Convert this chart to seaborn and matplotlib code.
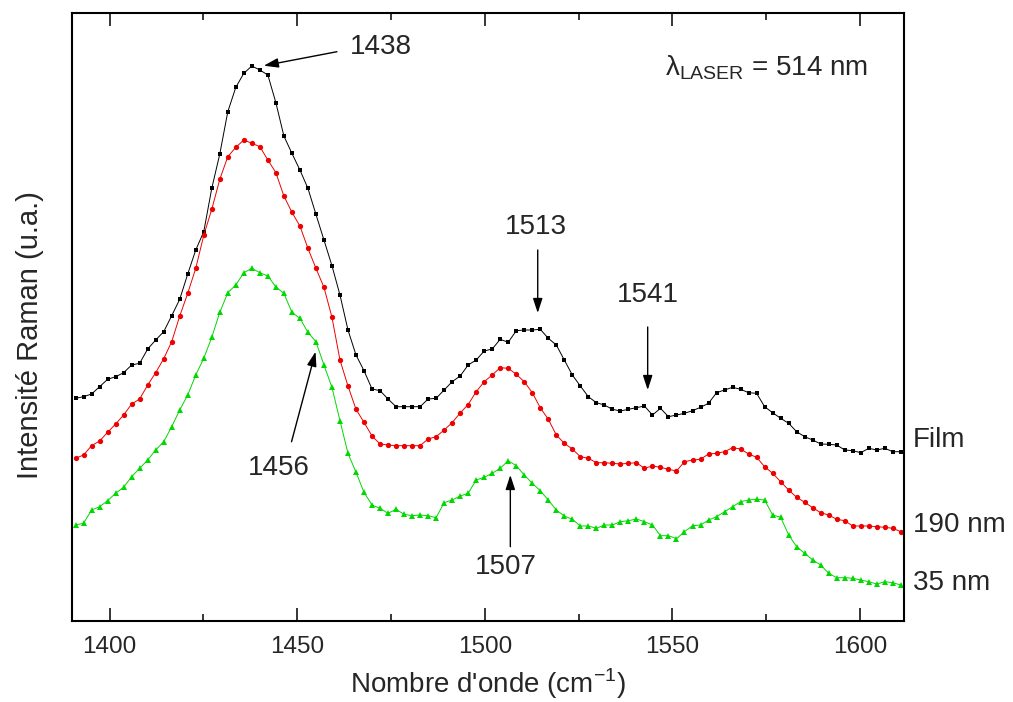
import numpy as np
import pandas as pd
import seaborn as sns
import matplotlib.pyplot as plt
from matplotlib.ticker import MultipleLocator

# wavenumber sampling of the spectra (cm-1)
WN_START = 1390.95
WN_STEP = 2.135
N_POINTS = 104

# Raman intensity (a.u.)
FILM = [
    222.7, 224.3, 227.0, 234.3, 241.7, 244.3, 248.3, 256.0, 257.7, 272.0,
    281.0, 289.3, 305.3, 321.7, 347.0, 371.0, 389.3, 432.7, 467.0, 509.3,
    533.7, 547.7, 555.0, 551.0, 546.0, 518.3, 485.0, 467.7, 451.0, 432.7,
    406.7, 381.0, 355.3, 326.0, 291.0, 266.0, 250.3, 232.0, 230.3, 222.0,
    214.3, 214.3, 214.3, 214.3, 222.0, 222.7, 231.0, 239.3, 245.0, 256.0,
    261.0, 270.0, 272.0, 281.7, 278.7, 290.3, 291.0, 291.0, 291.7, 282.7,
    276.0, 261.0, 246.0, 235.0, 224.3, 218.3, 216.0, 211.7, 210.0, 211.7,
    213.3, 215.0, 206.0, 212.7, 204.3, 206.0, 207.7, 210.3, 213.7, 217.7,
    228.3, 231.0, 233.7, 231.7, 228.3, 227.7, 214.3, 208.3, 202.7, 197.7,
    189.3, 184.3, 181.0, 177.0, 176.7, 176.0, 171.0, 170.3, 168.3, 172.7,
    171.0, 172.7, 169.3, 169.3,
]
NM190 = [
    162.7, 166.0, 175.3, 180.0, 188.7, 197.0, 206.0, 217.0, 222.0, 236.0,
    248.3, 262.3, 279.3, 305.0, 327.7, 352.7, 385.7, 411.7, 441.7, 464.3,
    473.7, 481.0, 477.7, 474.3, 461.0, 448.3, 425.0, 408.7, 395.0, 372.7,
    352.7, 333.7, 303.7, 261.0, 235.0, 211.7, 198.7, 185.0, 177.0, 176.0,
    175.3, 175.3, 175.3, 175.3, 182.0, 184.3, 191.0, 198.3, 208.0, 216.5,
    229.3, 239.3, 246.0, 253.3, 252.7, 246.7, 239.3, 228.3, 213.3, 201.7,
    186.0, 177.7, 172.0, 164.3, 162.7, 158.3, 158.3, 157.7, 157.0, 157.7,
    158.3, 152.7, 155.0, 153.7, 151.7, 150.0, 159.3, 161.0, 161.7, 167.0,
    167.7, 169.3, 173.3, 172.0, 167.0, 163.7, 154.3, 147.7, 139.3, 131.0,
    123.7, 118.7, 113.3, 108.3, 106.0, 101.7, 100.3, 95.0, 95.0, 95.0,
    94.3, 93.7, 92.7, 89.3,
]
NM35 = [
    96.0, 97.7, 111.0, 114.3, 120.3, 127.7, 133.7, 144.3, 152.7, 161.0,
    171.0, 179.3, 194.3, 211.0, 226.0, 246.0, 262.7, 283.7, 308.7, 328.3,
    336.0, 348.3, 352.7, 348.3, 345.0, 334.0, 327.7, 308.7, 302.7, 288.7,
    279.3, 256.0, 233.7, 200.3, 167.7, 148.7, 128.7, 116.0, 112.7, 107.7,
    111.7, 106.7, 105.3, 106.0, 105.3, 103.3, 118.3, 121.0, 125.0, 127.7,
    141.0, 143.7, 147.7, 152.7, 160.3, 155.3, 146.0, 137.7, 130.3, 121.0,
    111.0, 105.0, 101.7, 95.0, 95.0, 92.7, 96.0, 96.0, 99.3, 100.3,
    102.0, 99.3, 96.0, 85.3, 85.3, 82.3, 89.3, 95.3, 96.0, 101.0,
    104.3, 109.3, 114.3, 119.3, 121.0, 121.7, 121.0, 106.0, 103.7, 86.0,
    74.3, 67.7, 61.0, 56.0, 47.7, 43.3, 43.3, 42.7, 41.0, 39.3,
    37.0, 39.3, 38.3, 36.0,
]

SERIES = ["Film", "190 nm", "35 nm"]
COLORS = {"Film": "#000000", "190 nm": "#ee0000", "35 nm": "#00d800"}
MARKERS = {"Film": "s", "190 nm": "o", "35 nm": "^"}
MSIZE = {"Film": 3.4, "190 nm": 3.8, "35 nm": 4.8}

# peak labels: (text, text pos, arrow tail, arrow head)
PEAKS = [
    ("1438", (1472.3, 574.3), (1460.6, 569.3), (1441.1, 555.3)),
    ("1513", (1513.6, 394.3), (1514.1, 371.0), (1514.1, 308.0)),
    ("1541", (1543.4, 326.0), (1543.4, 294.0), (1543.4, 231.0)),
    ("1456", (1445.1, 152.7), (1448.5, 179.3), (1454.9, 269.3)),
    ("1507", (1505.5, 54.3), (1506.8, 74.3), (1506.8, 146.0)),
]
END_LABELS = {"Film": 181.0, "190 nm": 96.0, "35 nm": 37.7}

wavenumber = WN_START + WN_STEP * np.arange(N_POINTS)
df = pd.concat(
    [
        pd.DataFrame({"wavenumber": wavenumber, "intensity": vals, "sample": name})
        for name, vals in zip(SERIES, [FILM, NM190, NM35])
    ],
    ignore_index=True,
)

sns.set_style("white")
plt.rcParams["font.family"] = ["Liberation Sans", "DejaVu Sans"]
plt.rcParams["mathtext.fontset"] = "custom"
plt.rcParams["mathtext.rm"] = "Liberation Sans"

fig = plt.figure(figsize=(10.13, 7.02), dpi=100)
ax = fig.add_axes([72 / 1013, 1 - 621 / 702, 832 / 1013, 608 / 702])

for name in SERIES:
    sns.lineplot(
        data=df[df["sample"] == name],
        x="wavenumber",
        y="intensity",
        color=COLORS[name],
        marker=MARKERS[name],
        markersize=MSIZE[name],
        markeredgewidth=0,
        linewidth=0.7,
        estimator=None,
        legend=False,
        ax=ax,
    )

ax.set_xlim(1390, 1611.7)
ax.set_ylim(0, 608)
ax.set_yticks([])
ax.xaxis.set_major_locator(MultipleLocator(50))
ax.xaxis.set_minor_locator(MultipleLocator(25))
ax.tick_params(axis="x", which="both", direction="in", top=True, bottom=True,
               width=1.1, color="black", labelsize=17.5, pad=11)
ax.tick_params(axis="x", which="major", length=9.5)
ax.tick_params(axis="x", which="minor", length=5)
for sp in ax.spines.values():
    sp.set_linewidth(1.5)
    sp.set_color("black")

ax.set_xlabel("Nombre d'onde (cm$^{\\mathregular{-1}}$)", fontsize=20)
ax.xaxis.set_label_coords(0.5, -0.104)
ax.xaxis.label.set_va("center")
ax.set_ylabel("Intensité Raman (u.a.)", fontsize=21)
ax.yaxis.set_label_coords(-0.05, 0.47)
ax.yaxis.label.set_va("center")

for label, txt_pos, tail, head in PEAKS:
    ax.text(txt_pos[0], txt_pos[1], label, fontsize=20, ha="center", va="center")
    ax.annotate(
        "", xy=head, xytext=tail,
        arrowprops=dict(arrowstyle="-|>,head_length=0.55,head_width=0.18",
                        color="black", lw=1.0, shrinkA=0, shrinkB=0,
                        mutation_scale=16),
    )

ax.text(1548.1, 545, "$\\mathregular{\\lambda_{LASER}}$ = 514 nm",
        fontsize=20, ha="left", va="baseline")

for name, yv in END_LABELS.items():
    ax.text(1614.0, yv, name, fontsize=20, ha="left", va="center", clip_on=False)

fig.savefig("out.png", dpi=100)
